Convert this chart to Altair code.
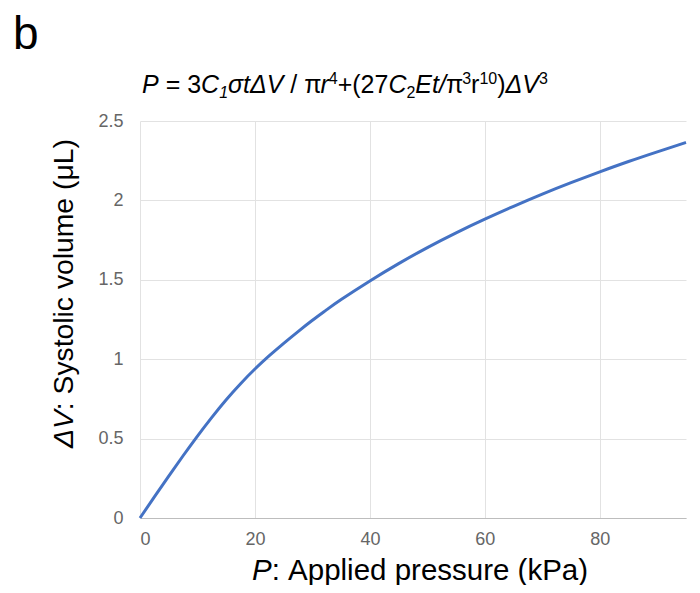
import altair as alt
import pandas as pd

# ---- data ----
pressure_kpa = [0, 2.5, 5, 7.5, 10, 12.5, 15, 17.5, 20, 22.5, 25, 27.5, 30, 32.5, 35, 40, 45, 50,
                55, 60, 65, 70, 75, 80, 85, 90, 95]
systolic_ul = [0, 0.133, 0.264, 0.392, 0.516, 0.634, 0.745, 0.846, 0.938, 1.022, 1.1, 1.174,
               1.245, 1.312, 1.376, 1.493, 1.602, 1.703, 1.796, 1.882, 1.963, 2.04, 2.112,
               2.18, 2.245, 2.306, 2.365]
x_ticks = [0, 20, 40, 60, 80]
y_ticks = [0, 0.5, 1, 1.5, 2, 2.5]
panel_label = "b"
# (text, italic?, position: n / sub / sup)
formula_parts = [("P", True, "n"), (" = 3", False, "n"), ("C", True, "n"), ("1", True, "sub"),
                 ("σtΔV", True, "n"), (" / π", False, "n"), ("r", True, "n"), ("4", False, "sup"),
                 ("+(27", False, "n"), ("C", True, "n"), ("2", False, "sub"), ("Et/", True, "n"),
                 ("π", False, "n"), ("3", False, "sup"), ("r", False, "n"), ("10", False, "sup"),
                 (")", False, "n"), ("ΔV", True, "n"), ("3", False, "sup")]
x_title_parts = [("P", True), (": Applied pressure (kPa)", False)]
y_title_parts = [("ΔV", True), (": Systolic volume (μL)", False)]

FONT = "Liberation Sans"
W, H = 546, 397

# approximate Arial advance widths (em/1000) used to chain text pieces
ADV = {" ": 278, "=": 584, "+": 584, "(": 333, ")": 333, "/": 278, ":": 278, "P": 667,
       "C": 722, "E": 667, "V": 667, "A": 667, "L": 556, "S": 667, "t": 278, "r": 333, "σ": 600,
       "Δ": 668, "π": 650, "μ": 576, "y": 500, "s": 500, "o": 556, "l": 222, "i": 222, "c": 500,
       "v": 500, "u": 556, "m": 833, "e": 556, "p": 556, "d": 556, "k": 500, "a": 556}


def text_width(s, size):
    return sum(ADV.get(ch, 556) for ch in s) * size / 1000.0


def one_text(s, x, y, size, italic=False, angle=0, color="#000000"):
    props = dict(align="left", baseline="alphabetic", font=FONT, fontSize=size, color=color)
    if italic:
        props["fontStyle"] = "italic"
    if angle:
        props["angle"] = angle
    return alt.Chart(pd.DataFrame({"t": [s]})).mark_text(**props).encode(
        x=alt.value(x), y=alt.value(y), text="t:N")


def chain(parts, x0, y0, horizontal=True):
    """Lay text pieces one after another; spaces only advance the pen."""
    out = []
    pos = x0 if horizontal else y0
    for s, it, size_i, dy in parts:
        run = ""
        start = pos
        sp = text_width(" ", size_i)
        for ch in s + " ":
            if ch == " ":
                if run:
                    if horizontal:
                        out.append(one_text(run, start, y0 + dy, size_i, it))
                    else:
                        out.append(one_text(run, x0, start, size_i, it, angle=270))
                    w = text_width(run, size_i)
                    start = start + w if horizontal else start - w
                    run = ""
                start = start + sp if horizontal else start - sp
            else:
                run += ch
        pos = start - sp if horizontal else start + sp
    return out


df = pd.DataFrame({"P": pressure_kpa, "V": systolic_ul})

line = alt.Chart(df).mark_line(color="#4472c4", strokeWidth=3, interpolate="natural").encode(
    x=alt.X("P:Q", scale=alt.Scale(domain=[0, 95], nice=False),
            axis=alt.Axis(values=x_ticks, title=None, grid=True, gridColor="#e2e2e2",
                          domainColor="#bdbdbd", ticks=False, labelFontSize=18,
                          labelColor="#666666", labelPadding=12, labelFont=FONT)),
    y=alt.Y("V:Q", scale=alt.Scale(domain=[0, 2.5], nice=False),
            axis=alt.Axis(values=y_ticks, title=None, grid=True, gridColor="#e2e2e2",
                          domain=False, ticks=False, labelFontSize=18, labelColor="#666666",
                          labelPadding=17, labelFont=FONT, format="~g")),
)

layers = [line]

# panel letter
layers.append(one_text(panel_label, -127, -72, 46))

# formula
fs, ss = 25, 16
shift = {"n": (fs, 0), "sub": (ss, 5), "sup": (ss, -9)}
layers += chain([(s, it, shift[p][0], shift[p][1]) for s, it, p in formula_parts], 2.0, -28.5)

# x axis title
layers += chain([(s, it, 29.5, 0) for s, it in x_title_parts], 112.0, 459)

# y axis title (rotated)
layers += chain([(s, it, 28.3, 0) for s, it in y_title_parts], -67.5, 327.0, horizontal=False)

chart = alt.layer(*layers).properties(
    width=W, height=H,
    autosize=alt.AutoSizeParams(type="none"),
    padding={"left": 132, "top": 113, "right": 6, "bottom": 67},
    background="white",
).configure_view(stroke=None)

chart.save("out.html", embed_options={"renderer": "svg", "actions": False})
